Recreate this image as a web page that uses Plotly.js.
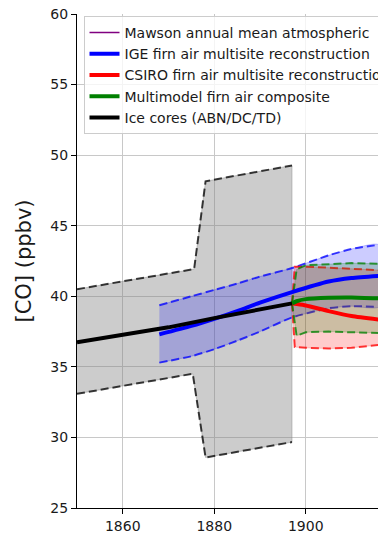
<!DOCTYPE html>
<html><head><meta charset="utf-8">
<script src="https://cdn.plot.ly/plotly-3.0.1.min.js"></script>
<style>html,body{margin:0;padding:0;overflow:hidden;background:#fff}#wrap{width:378px;height:535px;overflow:hidden;position:relative}#chart{width:480px;height:535px}</style>
</head><body><div id="wrap"><div id="chart"></div></div>
<script>
// Ice cores (ABN/DC/TD)
const iceYears = [1850, 1860, 1870, 1880, 1890, 1897];
const iceCO = [36.75, 37.25, 37.8, 38.45, 39.1, 39.5];
const iceUpperYears = [1850, 1875.6, 1878.1, 1897];
const iceUpperCO = [40.5, 41.93, 48.15, 49.27];
const iceLowerYears = [1850, 1875.3, 1878.1, 1897];
const iceLowerCO = [33.09, 34.51, 28.58, 29.67];
// IGE firn air multisite reconstruction
const igeYears = [1868, 1875, 1880, 1885, 1890, 1897, 1905, 1910, 1916];
const igeCO = [37.3, 37.9, 38.4, 38.95, 39.55, 40.3, 41.05, 41.3, 41.45];
const igeUpper = [39.37, 40.0, 40.45, 40.9, 41.4, 42.0, 42.9, 43.35, 43.65];
const igeLower = [35.3, 35.75, 36.25, 36.85, 37.5, 38.5, 39.15, 39.3, 39.25];
// CSIRO firn air multisite reconstruction
const csiroYears = [1897, 1897.6, 1900, 1905, 1910, 1916];
const csiroCO = [39.5, 39.47, 39.35, 38.95, 38.6, 38.35];
const csiroUpper = [39.5, 42.1, 42.1, 42.05, 41.95, 41.85];
const csiroLower = [39.5, 36.4, 36.35, 36.3, 36.35, 36.55];
// Multimodel firn air composite
const multiYears = [1897, 1898, 1900, 1905, 1910, 1916];
const multiCO = [39.5, 39.65, 39.8, 39.9, 39.92, 39.85];
const multiUpper = [39.5, 41.9, 42.2, 42.3, 42.35, 42.3];
const multiLower = [39.5, 37.2, 37.45, 37.5, 37.45, 37.4];
// Mawson annual mean atmospheric (no values inside the visible range)
const mawsonYears = [null];
const mawsonCO = [null];

const yTicks = [25, 30, 35, 40, 45, 50, 55, 60];
const xTicks = [1860, 1880, 1900];

function band(xu, yu, xl, yl, fill, shape) {
  return {x: xu.concat(xl.slice().reverse()), y: yu.concat(yl.slice().reverse()),
    type: 'scatter', mode: 'lines', fill: 'toself', fillcolor: fill,
    line: {color: fill, width: 1, shape: shape || 'linear', smoothing: 0.6}, showlegend: false, hoverinfo: 'skip'};
}
function dashed(x, y, color, shape) {
  return {x: x, y: y, type: 'scatter', mode: 'lines', showlegend: false,
    line: {color: color, width: 2, dash: '8px,4px', shape: shape || 'linear', smoothing: 0.6}, hoverinfo: 'skip'};
}
function main(x, y, color, w, name, shape) {
  return {x: x, y: y, type: 'scatter', mode: 'lines', name: name,
    line: {color: color, width: w, shape: shape || 'linear', smoothing: 0.6}};
}

const traces = [
  band(iceUpperYears, iceUpperCO, iceLowerYears, iceLowerCO, 'rgba(128,128,128,0.4)'),
  dashed(iceUpperYears, iceUpperCO, 'rgba(0,0,0,0.75)'),
  dashed(iceLowerYears, iceLowerCO, 'rgba(0,0,0,0.75)'),
  band(igeYears, igeUpper, igeYears, igeLower, 'rgba(0,0,255,0.2)', 'spline'),
  dashed(igeYears, igeUpper, 'rgba(0,0,255,0.75)', 'spline'),
  dashed(igeYears, igeLower, 'rgba(0,0,255,0.75)', 'spline'),
  band(csiroYears, csiroUpper, csiroYears, csiroLower, 'rgba(255,0,0,0.2)'),
  dashed(csiroYears, csiroUpper, 'rgba(255,0,0,0.75)'),
  dashed(csiroYears, csiroLower, 'rgba(255,0,0,0.75)'),
  band(multiYears, multiUpper, multiYears, multiLower, 'rgba(0,128,0,0.2)'),
  dashed(multiYears, multiUpper, 'rgba(0,128,0,0.75)'),
  dashed(multiYears, multiLower, 'rgba(0,128,0,0.75)'),
  main(mawsonYears, mawsonCO, 'purple', 1.5, 'Mawson annual mean atmospheric'),
  main(igeYears, igeCO, '#0000ff', 4, 'IGE firn air multisite reconstruction', 'spline'),
  main(csiroYears, csiroCO, '#ff0000', 4, 'CSIRO firn air multisite reconstruction', 'spline'),
  main(multiYears, multiCO, '#008000', 4, 'Multimodel firn air composite', 'spline'),
  main(iceYears, iceCO, '#000000', 4, 'Ice cores (ABN/DC/TD)')
];

const font = {family: 'DejaVu Sans, sans-serif', size: 14, color: '#1a1a1a'};
const layout = {
  width: 480, height: 535,
  margin: {l: 77, r: 20, t: 14, b: 27, pad: 0},
  paper_bgcolor: '#fff', plot_bgcolor: '#fff',
  font: font,
  showlegend: true,
  legend: {x: 0.017, y: 0.996, xanchor: 'left', yanchor: 'top',
    bgcolor: 'rgba(255,255,255,0.8)', bordercolor: '#cccccc', borderwidth: 1,
    font: {family: 'DejaVu Sans, sans-serif', size: 14, color: '#1a1a1a'}, traceorder: 'normal'},
  xaxis: {range: [1850, 1850 + 383 / 4.575], tickvals: xTicks, ticktext: xTicks.map(String),
    showgrid: true, gridcolor: '#c8c8c8', gridwidth: 1, zeroline: false,
    showline: true, linecolor: '#000', linewidth: 1, ticks: 'outside', ticklen: 5,
    tickcolor: '#000', tickwidth: 1, tickfont: font},
  yaxis: {range: [25, 60], tickvals: yTicks, ticktext: yTicks.map(String),
    showgrid: true, gridcolor: '#c8c8c8', gridwidth: 1, zeroline: false,
    showline: true, linecolor: '#000', linewidth: 1, ticks: 'outside', ticklen: 5,
    tickcolor: '#000', tickwidth: 1, tickfont: font,
    title: {text: '[CO] (ppbv)', font: {family: 'DejaVu Sans, sans-serif', size: 21, color: '#1a1a1a'}, standoff: 13}}
};
Plotly.newPlot('chart', traces, layout, {staticPlot: true, displayModeBar: false});
</script></body></html>
